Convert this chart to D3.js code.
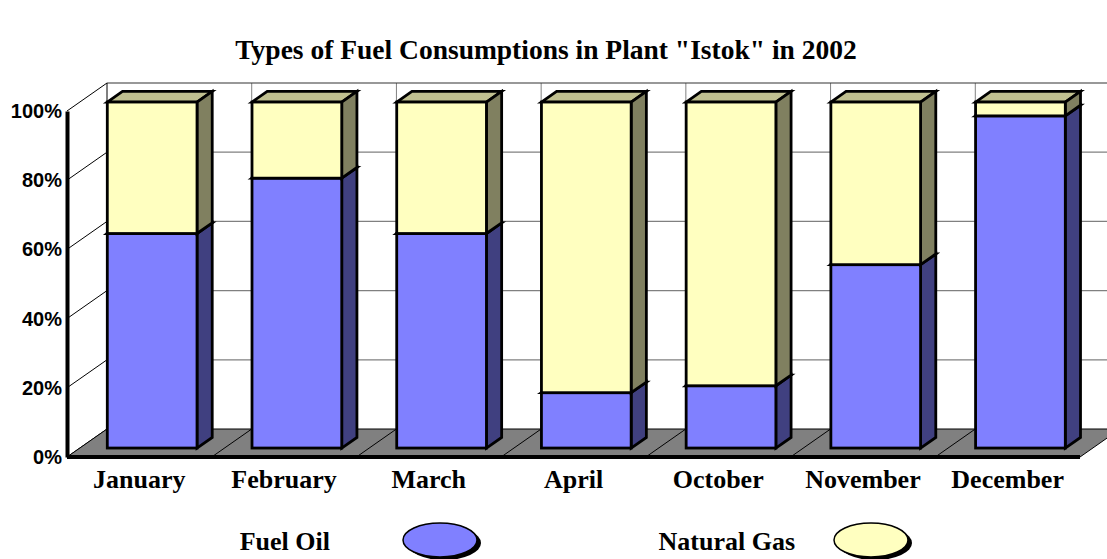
<!DOCTYPE html>
<html>
<head>
<meta charset="utf-8">
<script src="https://cdn.jsdelivr.net/npm/d3@7"></script>
<style>
  body { margin: 0; background: #fff; }
  svg { display: block; }
</style>
</head>
<body>
<div id="chart"></div>
<script>
var width = 1107;
var height = 559;

// data, percent of the month's fuel use
var months = ["January", "February", "March", "April", "October", "November", "December"];
var fuelOil = [62, 78, 62, 16, 18, 53, 96];
var naturalGas = [38, 22, 38, 84, 82, 47, 4];
var seriesNames = ["Fuel Oil", "Natural Gas"];
var yTicks = [0, 20, 40, 60, 80, 100];

var colors = {
    "Fuel Oil": {front: "#8080ff", side: "#404080", top: "#6060c0"},
    "Natural Gas": {front: "#ffffc0", side: "#808060", top: "#c0c090"}
};

// 3D depth of the plot box and of the bars inside it
var depth = {dx: 40, dy: -28};
var barFront = 0.32, barBack = 0.7;

var svg = d3.select("#chart")
    .append("svg")
    .attr("width", width)
    .attr("height", height);

var x = d3.scaleBand()
    .domain(months)
    .range([67, 1080])
    .paddingInner(0.38)
    .paddingOuter(0.19);

var y = d3.scaleLinear()
    .domain([0, 100])
    .range([457, 111]);

var xl = x.range()[0], xr = x.range()[1];
var step = x.step();

var serif = "'Liberation Serif', 'Times New Roman', serif";

// title
svg.append("text")
    .attr("x", 546)
    .attr("y", 59)
    .attr("text-anchor", "middle")
    .style("font-family", serif)
    .style("font-weight", "bold")
    .style("font-size", "27.5px")
    .text('Types of Fuel Consumptions in Plant "Istok" in 2002');

// walls
var walls = svg.append("g");
walls.append("rect")
    .attr("x", xl + depth.dx)
    .attr("y", y(100) + depth.dy)
    .attr("width", xr - xl + 10)
    .attr("height", y(0) - y(100))
    .attr("fill", "#fff");

walls.selectAll("line.grid")
    .data(yTicks.slice(1, -1))
    .enter().append("line")
    .attr("x1", xl + depth.dx)
    .attr("x2", width)
    .attr("y1", d => y(d) + depth.dy)
    .attr("y2", d => y(d) + depth.dy)
    .attr("stroke", "#808080")
    .attr("stroke-width", 1.2);

walls.selectAll("line.vgrid")
    .data(d3.range(1, months.length))
    .enter().append("line")
    .attr("x1", d => xl + d * step + depth.dx)
    .attr("x2", d => xl + d * step + depth.dx)
    .attr("y1", y(0) + depth.dy)
    .attr("y2", y(100) + depth.dy)
    .attr("stroke", "#808080")
    .attr("stroke-width", 1);

walls.append("line")
    .attr("x1", xl + depth.dx)
    .attr("x2", width)
    .attr("y1", y(100) + depth.dy)
    .attr("y2", y(100) + depth.dy)
    .attr("stroke", "#333")
    .attr("stroke-width", 1.2);

walls.append("line")
    .attr("x1", xl + depth.dx)
    .attr("x2", xl + depth.dx)
    .attr("y1", y(0) + depth.dy)
    .attr("y2", y(100) + depth.dy)
    .attr("stroke", "#000")
    .attr("stroke-width", 1);

// left wall tick lines
walls.selectAll("line.side")
    .data(yTicks)
    .enter().append("line")
    .attr("x1", xl)
    .attr("x2", xl + depth.dx)
    .attr("y1", d => y(d))
    .attr("y2", d => y(d) + depth.dy)
    .attr("stroke", "#000")
    .attr("stroke-width", 1);

// floor
var floorPts = [[xl, y(0)], [xr, y(0)], [xr + depth.dx, y(0) + depth.dy], [xl + depth.dx, y(0) + depth.dy]];
svg.append("polygon")
    .attr("points", floorPts.map(p => p.join(",")).join(" "))
    .attr("fill", "#808080")
    .attr("stroke", "#000")
    .attr("stroke-width", 1);

svg.selectAll("line.floor")
    .data(d3.range(1, months.length))
    .enter().append("line")
    .attr("x1", d => xl + d * step)
    .attr("x2", d => xl + d * step + depth.dx)
    .attr("y1", y(0))
    .attr("y2", y(0) + depth.dy)
    .attr("stroke", "#000")
    .attr("stroke-width", 1);

// bars
var stackData = months.map((m, i) => ({month: m, "Fuel Oil": fuelOil[i], "Natural Gas": naturalGas[i]}));
var stacked = d3.stack().keys(seriesNames)(stackData);

var fx = barFront * depth.dx, fy = barFront * depth.dy;
var bx = barBack * depth.dx, by = barBack * depth.dy;

var bars = svg.append("g")
    .attr("stroke", "#000")
    .attr("stroke-width", 2.8)
    .attr("stroke-linejoin", "miter");

months.forEach(function (m, i) {
    stacked.forEach(function (layer) {
        var d = layer[i];
        var c = colors[layer.key];
        var x0 = x(m), x1 = x(m) + x.bandwidth();
        var yb = y(d[0]), yt = y(d[1]);
        bars.append("polygon")
            .attr("points", [[x0 + fx, yt + fy], [x0 + bx, yt + by], [x1 + bx, yt + by], [x1 + fx, yt + fy]].map(p => p.join(",")).join(" "))
            .attr("fill", c.top);
        bars.append("polygon")
            .attr("points", [[x1 + fx, yt + fy], [x1 + bx, yt + by], [x1 + bx, yb + by], [x1 + fx, yb + fy]].map(p => p.join(",")).join(" "))
            .attr("fill", c.side);
        bars.append("rect")
            .attr("x", x0 + fx)
            .attr("y", yt + fy)
            .attr("width", x.bandwidth())
            .attr("height", yb - yt)
            .attr("fill", c.front);
    });
});

// axes
svg.append("line")
    .attr("x1", xl)
    .attr("x2", xr)
    .attr("y1", y(0))
    .attr("y2", y(0))
    .attr("stroke", "#000")
    .attr("stroke-width", 4);

var yAxis = d3.axisLeft(y)
    .tickValues(yTicks)
    .tickSize(0)
    .tickPadding(5)
    .tickFormat(d => d + "%");

var gy = svg.append("g")
    .attr("transform", "translate(" + xl + ",0)")
    .call(yAxis);
gy.select(".domain").attr("stroke", "#000").attr("stroke-width", 4);
gy.selectAll("text")
    .style("font-family", "'Liberation Sans', Arial, sans-serif")
    .style("font-weight", "bold")
    .style("font-size", "20px")
    .attr("fill", "#000");

var xAxis = d3.axisBottom(x.copy().paddingInner(0).paddingOuter(0))
    .tickSize(0)
    .tickPadding(13);

var gx = svg.append("g")
    .attr("transform", "translate(0," + y(0) + ")")
    .call(xAxis);
gx.select(".domain").remove();
gx.selectAll("text")
    .style("font-family", serif)
    .style("font-weight", "bold")
    .style("font-size", "26px")
    .attr("fill", "#000");

// legend
var legendX = [{text: 330, cx: 440}, {text: 795, cx: 871}];
var legend = svg.selectAll("g.legend")
    .data(seriesNames)
    .enter().append("g")
    .attr("class", "legend");

legend.append("text")
    .attr("x", (d, i) => legendX[i].text)
    .attr("y", 550)
    .attr("text-anchor", "end")
    .style("font-family", serif)
    .style("font-weight", "bold")
    .style("font-size", "26px")
    .text(d => d);

legend.append("ellipse")
    .attr("cx", (d, i) => legendX[i].cx + 4)
    .attr("cy", 543)
    .attr("rx", 37)
    .attr("ry", 17)
    .attr("fill", "#000");

legend.append("ellipse")
    .attr("cx", (d, i) => legendX[i].cx)
    .attr("cy", 540)
    .attr("rx", 37)
    .attr("ry", 17)
    .attr("fill", d => colors[d].front)
    .attr("stroke", "#000")
    .attr("stroke-width", 1.5);
</script>
</body>
</html>
